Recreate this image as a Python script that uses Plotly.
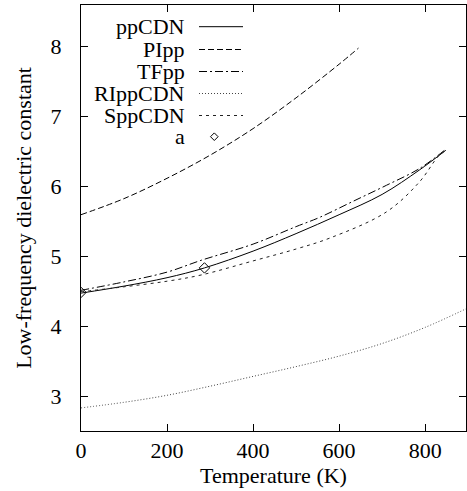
import plotly.graph_objects as go

# ---- data ----
T_pp = [0, 100, 200, 287, 400, 500, 600, 700, 787, 848]
ppCDN = [4.48, 4.58, 4.70, 4.84, 5.08, 5.33, 5.60, 5.89, 6.24, 6.52]

T_PI = [0, 100, 200, 300, 400, 500, 600, 645]
PIpp = [5.60, 5.83, 6.12, 6.45, 6.83, 7.27, 7.75, 7.98]

T_TF = [0, 100, 200, 280, 400, 500, 554, 632, 710, 787, 845]
TFpp = [4.52, 4.64, 4.78, 4.95, 5.18, 5.43, 5.56, 5.79, 6.02, 6.26, 6.52]

T_RI = [0, 100, 200, 300, 400, 500, 600, 700, 800, 900]
RIppCDN = [2.84, 2.92, 3.02, 3.15, 3.29, 3.43, 3.58, 3.76, 3.99, 4.27]

T_S = [0, 100, 200, 280, 400, 500, 580, 710, 787, 830, 848]
SppCDN = [4.50, 4.57, 4.65, 4.74, 4.94, 5.11, 5.27, 5.64, 6.07, 6.43, 6.52]

T_a = [0, 287]
a_vals = [4.49, 4.84]

x_ticks = [0, 200, 400, 600, 800]
y_ticks = [3, 4, 5, 6, 7, 8]

names = ["ppCDN", "PIpp", "TFpp", "RIppCDN", "SppCDN"]
series = [(T_pp, ppCDN), (T_PI, PIpp), (T_TF, TFpp), (T_RI, RIppCDN), (T_S, SppCDN)]
dashes = ["solid", "6px,3px", "8px,3px,2px,3px", "1px,2px", "3px,4px"]
colors = ["black", "black", "black", "#444", "#222"]

FONT = "Liberation Serif"

fig = go.Figure()
for n, (xs, ys), d, c in zip(names, series, dashes, colors):
    fig.add_trace(go.Scatter(x=xs, y=ys, mode="lines", name=n,
                             line=dict(color=c, width=1, dash=d, shape="spline"),
                             showlegend=False))
fig.add_trace(go.Scatter(x=T_a, y=a_vals, mode="markers", name="a",
                         marker=dict(symbol="diamond-open", size=8,
                                     color="black", line=dict(width=1)),
                         showlegend=False))

# custom legend (text right-aligned, key on the right, as in the reference)
L, R, TOP, BOT = 81, 466, 5, 431
def px(x):
    return (x - L) / (R - L)
def py(y):
    return (BOT - y) / (BOT - TOP)

rows = [26.7, 49.5, 71.5, 93.5, 115.5, 136.7]
labels = names + ["a"]
for i, lab in enumerate(labels):
    fig.add_annotation(x=px(186), y=py(rows[i]), xref="paper", yref="paper",
                       text=lab, showarrow=False, xanchor="right", yanchor="middle",
                       borderpad=0,
                       font=dict(family=FONT, size=22, color="black"))
    if i < 5:
        fig.add_shape(type="line", xref="paper", yref="paper",
                      x0=px(199), x1=px(243), y0=py(rows[i]), y1=py(rows[i]),
                      line=dict(color=colors[i], width=1, dash=dashes[i]))
    else:
        fig.add_shape(type="path", xref="paper", yref="paper",
                      path="M {} {} L {} {} L {} {} L {} {} Z".format(
                          px(210.5), py(rows[i]), px(214.3), py(rows[i] - 3.8),
                          px(218.1), py(rows[i]), px(214.3), py(rows[i] + 3.8)),
                      line=dict(color="black", width=1))

axis_common = dict(showline=True, linecolor="black", linewidth=1, mirror="ticks",
                   ticks="inside", ticklen=7, tickcolor="black", tickwidth=1,
                   showgrid=False, zeroline=False,
                   tickfont=dict(family=FONT, size=22, color="black"))

fig.update_xaxes(range=[0, 895], tickvals=x_ticks, ticklabelstandoff=0,
                 title=dict(text="Temperature (K)", standoff=0,
                            font=dict(family=FONT, size=22, color="black")),
                 **axis_common)
fig.update_yaxes(range=[2.51, 8.596], tickvals=y_ticks, ticklabelstandoff=14,
                 title=dict(text="Low-frequency dielectric constant", standoff=12,
                            font=dict(family=FONT, size=22, color="black")),
                 **axis_common)

fig.update_layout(width=467, height=491,
                  margin=dict(l=L, r=467 - R, t=TOP, b=491 - BOT),
                  plot_bgcolor="white", paper_bgcolor="white",
                  font=dict(family=FONT, size=22, color="black"))

fig.write_html("out.html", config={"displayModeBar": False},
               post_script="document.body.style.margin='0px';"
                           "document.body.style.overflow='hidden';")
